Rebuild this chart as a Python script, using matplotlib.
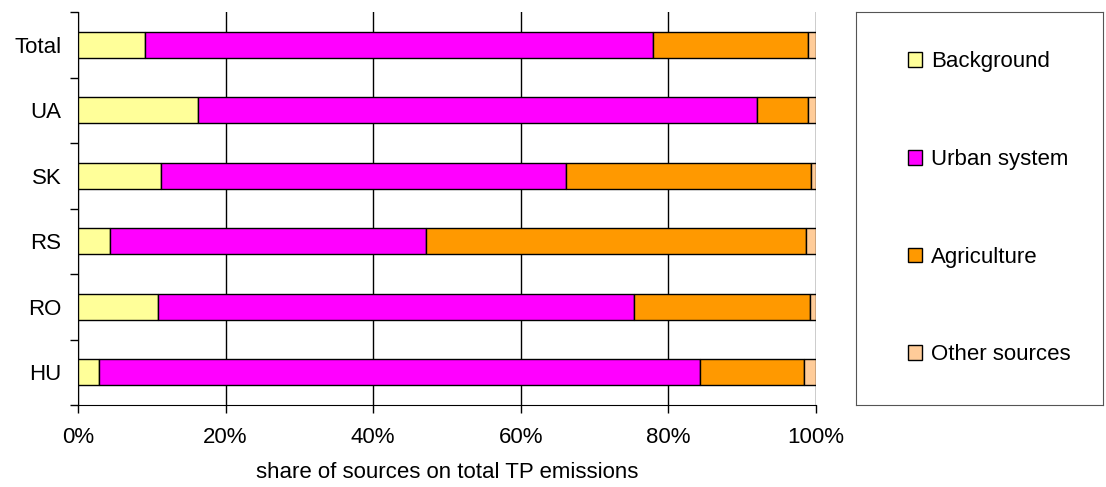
import matplotlib
matplotlib.use("Agg")
import matplotlib.pyplot as plt
import numpy as np

plt.rcParams["font.family"] = ["Liberation Sans", "DejaVu Sans"]

countries = ["HU", "RO", "RS", "SK", "UA", "Total"]
background = [2.9, 10.9, 4.4, 11.2, 16.3, 9.1]
urban = [81.4, 64.5, 42.8, 54.9, 75.7, 68.8]
agriculture = [14.1, 23.8, 51.4, 33.2, 6.9, 21.0]
other = [1.6, 0.8, 1.4, 0.7, 1.1, 1.1]

series = [
    ("Background", background, "#FFFF99"),
    ("Urban system", urban, "#FF00FF"),
    ("Agriculture", agriculture, "#FF9900"),
    ("Other sources", other, "#FFCC99"),
]

fs = 16

fig = plt.figure(figsize=(11.06, 4.87), dpi=100)
ax = fig.add_axes([78 / 1106, 1 - 405 / 487, 738 / 1106, 393 / 487])

y = np.arange(len(countries))
left = np.zeros(len(countries))
handles = []
for name, vals, col in series:
    vals = np.array(vals)
    b = ax.barh(y, vals, left=left, height=0.39, color=col, edgecolor="black",
                linewidth=1, label=name, zorder=3)
    handles.append(b)
    left += vals

ax.set_xlim(0, 100)
ax.set_ylim(-0.5, len(countries) - 0.5)
ax.set_xticks(np.arange(0, 101, 20))
ax.set_xticklabels([f"{v}%" for v in range(0, 101, 20)], fontsize=fs)
ax.set_yticks(y)
ax.set_yticklabels(countries, fontsize=fs)
ax.tick_params(axis="y", length=0, pad=12)
ax.set_yticks(np.arange(-0.5, len(countries), 1), minor=True)
ax.tick_params(axis="y", which="minor", length=6, width=1, direction="out")
ax.tick_params(axis="x", length=6, width=1, direction="out", pad=10)
ax.xaxis.grid(True, color="black", linewidth=1, zorder=0)
ax.set_axisbelow(True)
ax.spines["top"].set_visible(False)
ax.spines["right"].set_visible(False)
ax.set_xlabel("share of sources on total TP emissions", fontsize=fs, labelpad=10)

lax = fig.add_axes([856 / 1106, 1 - 405 / 487, 247 / 1106, 393 / 487])
lax.set_xticks([])
lax.set_yticks([])
for s in lax.spines.values():
    s.set_color("#555555")
lax.legend(handles=handles, loc="center left", bbox_to_anchor=(0.21, 0.5),
           frameon=False, fontsize=fs, handlelength=0.65, handleheight=0.65,
           handletextpad=0.4, labelspacing=3.45, borderpad=0, borderaxespad=0)

fig.savefig("out.png", dpi=100)
